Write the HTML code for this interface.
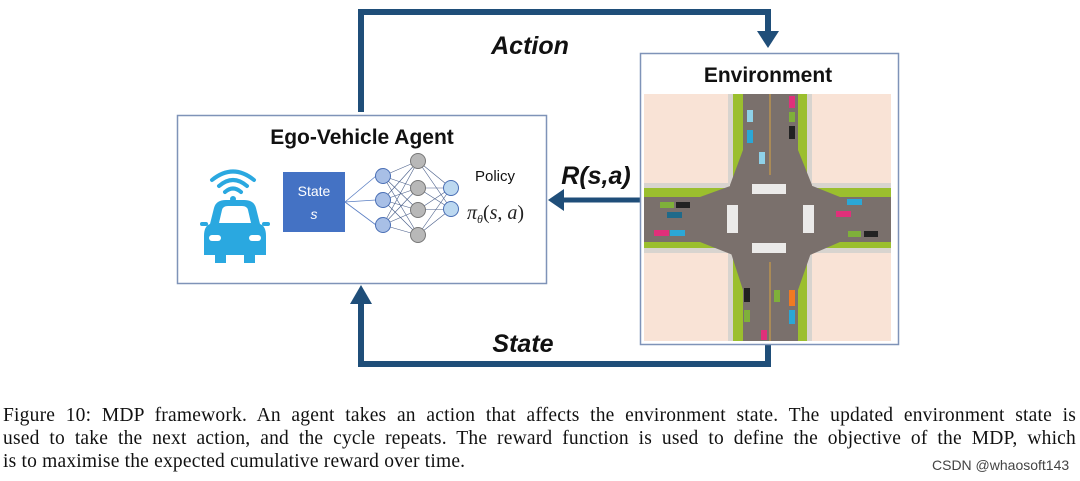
<!DOCTYPE html>
<html><head><meta charset="utf-8"><style>
body{margin:0;width:1080px;height:481px;background:#fff;position:relative;overflow:hidden;font-family:"Liberation Serif",serif}
.cap{position:absolute;left:3px;width:1073px;font-size:19.5px;line-height:22px;color:#111;white-space:nowrap;letter-spacing:0.2px}
.j{text-align:justify;text-align-last:justify;white-space:normal}
</style></head><body>
<svg width="1080" height="400" style="position:absolute;left:0;top:0" font-family="Liberation Sans, sans-serif">
<polyline points="361,112 361,12 768,12 768,34" fill="none" stroke="#1f4e79" stroke-width="6"/>
<polygon points="757,31 779,31 768,48" fill="#1f4e79"/>
<polyline points="768,345 768,364 361,364 361,302" fill="none" stroke="#1f4e79" stroke-width="6"/>
<polygon points="350,304 372,304 361,285" fill="#1f4e79"/>
<line x1="640" y1="200" x2="562" y2="200" stroke="#1f4e79" stroke-width="5"/>
<polygon points="564,189 564,211 548,200" fill="#1f4e79"/>
<text x="530" y="54" font-size="25" font-weight="bold" font-style="italic" text-anchor="middle" fill="#111">Action</text>
<text x="523" y="352" font-size="25" font-weight="bold" font-style="italic" text-anchor="middle" fill="#111">State</text>
<text x="596" y="184" font-size="25" font-weight="bold" font-style="italic" text-anchor="middle" fill="#111">R(s,a)</text>
<rect x="177.5" y="115.5" width="369" height="168" fill="#fff" stroke="#7f93b8" stroke-width="1.5"/>
<text x="362" y="144" font-size="21" font-weight="bold" text-anchor="middle" fill="#111">Ego-Vehicle Agent</text>
<g fill="#2aa8e0">
<path d="M204,236 Q204,226 210,224 L214,208 Q216,200 226,200 L244,200 Q254,200 256,208 L260,224 Q266,226 266,236 L266,255 L255,255 L255,263 L244,263 L244,255 L226,255 L226,263 L215,263 L215,255 L204,255 Z"/>
<rect x="200" y="222" width="8" height="4" rx="2"/><rect x="262" y="222" width="8" height="4" rx="2"/>
<circle cx="233" cy="199" r="3"/>
</g>
<path d="M219,223 L222,210 Q223,206 228,206 L242,206 Q247,206 248,210 L251,223 Z" fill="#fff"/>
<rect x="209" y="235" width="12" height="6" rx="3" fill="#fff"/><rect x="249" y="235" width="12" height="6" rx="3" fill="#fff"/>
<g fill="none" stroke="#2aa8e0" stroke-width="4" stroke-linecap="round">
<path d="M225,192 Q233,185 241,192"/><path d="M219,186 Q233,174 247,186"/><path d="M212,180 Q233,163 254,180"/>
</g>
<rect x="283" y="172" width="62" height="60" fill="#4472c4"/>
<text x="314" y="196" font-size="14" fill="#fff" text-anchor="middle">State</text>
<text x="314" y="219" font-size="14" font-style="italic" fill="#fff" text-anchor="middle">s</text>
<g stroke="#5b7fc4" stroke-width="0.8">
<line x1="345" y1="202" x2="376" y2="176"/><line x1="345" y1="202" x2="376" y2="200"/><line x1="345" y1="202" x2="376" y2="225"/>
</g>
<g stroke="#4a5f8a" stroke-width="0.6">
<line x1="383" y1="176" x2="418" y2="161"/><line x1="383" y1="176" x2="418" y2="188"/><line x1="383" y1="176" x2="418" y2="210"/><line x1="383" y1="176" x2="418" y2="235"/>
<line x1="383" y1="200" x2="418" y2="161"/><line x1="383" y1="200" x2="418" y2="188"/><line x1="383" y1="200" x2="418" y2="210"/><line x1="383" y1="200" x2="418" y2="235"/>
<line x1="383" y1="225" x2="418" y2="161"/><line x1="383" y1="225" x2="418" y2="188"/><line x1="383" y1="225" x2="418" y2="210"/><line x1="383" y1="225" x2="418" y2="235"/>
<line x1="418" y1="161" x2="451" y2="188"/><line x1="418" y1="161" x2="451" y2="209"/><line x1="418" y1="188" x2="451" y2="188"/><line x1="418" y1="188" x2="451" y2="209"/>
<line x1="418" y1="210" x2="451" y2="188"/><line x1="418" y1="210" x2="451" y2="209"/><line x1="418" y1="235" x2="451" y2="188"/><line x1="418" y1="235" x2="451" y2="209"/>
</g>
<g fill="#a8bfe6" stroke="#4a6fb5" stroke-width="1"><circle cx="383" cy="176" r="7.5"/><circle cx="383" cy="200" r="7.5"/><circle cx="383" cy="225" r="7.5"/></g>
<g fill="#b8b8b8" stroke="#777" stroke-width="1"><circle cx="418" cy="161" r="7.5"/><circle cx="418" cy="188" r="7.5"/><circle cx="418" cy="210" r="7.5"/><circle cx="418" cy="235" r="7.5"/></g>
<g fill="#bcd8f0" stroke="#4a6fb5" stroke-width="1"><circle cx="451" cy="188" r="7.5"/><circle cx="451" cy="209" r="7.5"/></g>
<text x="475" y="181" font-size="15" fill="#111">Policy</text>
<text x="467" y="219" font-size="20" font-family="Liberation Serif, serif" fill="#222"><tspan font-style="italic">π</tspan><tspan font-size="12" font-style="italic" dy="4">θ</tspan><tspan dy="-4">(</tspan><tspan font-style="italic">s</tspan>, <tspan font-style="italic">a</tspan>)</text>
<rect x="640.5" y="53.5" width="258" height="291" fill="#fff" stroke="#7f93b8" stroke-width="1.5"/>
<text x="768" y="82" font-size="21" font-weight="bold" text-anchor="middle" fill="#111">Environment</text>
<rect x="644" y="94" width="247" height="247" fill="#f9e3d6"/>
<rect x="728" y="94" width="84" height="247" fill="#d8d4cf"/>
<rect x="644" y="183" width="247" height="70" fill="#d8d4cf"/>
<rect x="733" y="94" width="74" height="247" fill="#9bbf2e"/>
<rect x="644" y="188" width="247" height="60" fill="#9bbf2e"/>
<rect x="743" y="94" width="55" height="247" fill="#7a706c"/>
<rect x="644" y="197" width="247" height="45" fill="#7a706c"/>
<path d="M743,150 L730,185 L730,250 L743,290 L798,290 L812,250 L812,185 L798,150 Z" fill="#7a706c"/>
<path d="M700,197 L733,185 L810,185 L840,197 L840,242 L810,255 L733,255 L700,242 Z" fill="#7a706c"/>
<line x1="770" y1="94" x2="770" y2="175" stroke="#d9a441" stroke-width="1"/><line x1="770" y1="262" x2="770" y2="341" stroke="#d9a441" stroke-width="1"/>
<g fill="#fff"><rect x="752" y="184" width="34" height="10" opacity=".85"/><rect x="752" y="243" width="34" height="10" opacity=".85"/><rect x="727" y="205" width="11" height="28" opacity=".85"/><rect x="803" y="205" width="11" height="28" opacity=".85"/></g>
<g>
<rect x="747" y="110" width="6" height="12" fill="#8fd1e8"/><rect x="747" y="130" width="6" height="13" fill="#2ba7d6"/><rect x="759" y="152" width="6" height="12" fill="#8fd1e8"/>
<rect x="789" y="96" width="6" height="12" fill="#e0307a"/><rect x="789" y="112" width="6" height="10" fill="#7fb03a"/><rect x="789" y="126" width="6" height="13" fill="#222"/>
<rect x="660" y="202" width="14" height="6" fill="#7fb03a"/><rect x="676" y="202" width="14" height="6" fill="#222"/><rect x="667" y="212" width="15" height="6" fill="#1f6a8a"/>
<rect x="654" y="230" width="15" height="6" fill="#e0307a"/><rect x="670" y="230" width="15" height="6" fill="#2ba7d6"/>
<rect x="847" y="199" width="15" height="6" fill="#2ba7d6"/><rect x="836" y="211" width="15" height="6" fill="#e0307a"/><rect x="848" y="231" width="13" height="6" fill="#7fb03a"/><rect x="864" y="231" width="14" height="6" fill="#222"/>
<rect x="744" y="288" width="6" height="14" fill="#222"/><rect x="744" y="310" width="6" height="12" fill="#7fb03a"/><rect x="774" y="290" width="6" height="12" fill="#7fb03a"/><rect x="789" y="290" width="6" height="16" fill="#f07a22"/><rect x="789" y="310" width="6" height="14" fill="#2ba7d6"/><rect x="761" y="330" width="6" height="10" fill="#e0307a"/>
</g>
</svg>
<div class="cap j" style="top:405px">Figure 10: MDP framework. An agent takes an action that affects the environment state. The updated environment state is</div>
<div class="cap j" style="top:428px">used to take the next action, and the cycle repeats. The reward function is used to define the objective of the MDP, which</div>
<div class="cap" style="top:451px">is to maximise the expected cumulative reward over time.</div>
<div style="position:absolute;left:932px;top:457px;font-family:'Liberation Sans',sans-serif;font-size:14px;color:#444">CSDN @whaosoft143</div>
</body></html>
